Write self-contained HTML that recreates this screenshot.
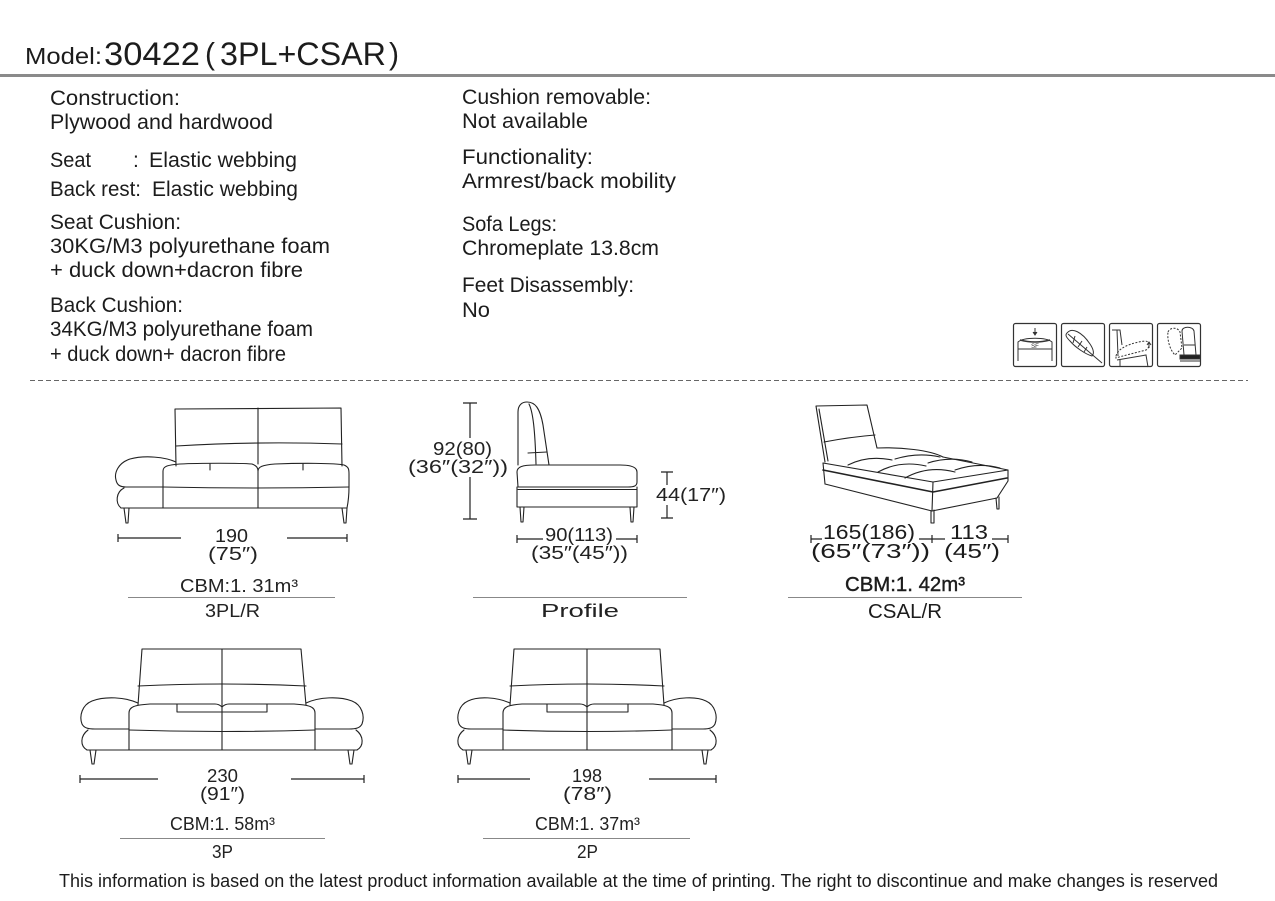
<!DOCTYPE html>
<html>
<head>
<meta charset="utf-8">
<style>
  html,body{margin:0;padding:0;background:#fff;}
  svg{display:block;}
  .t{font-family:"Liberation Sans","DejaVu Sans",sans-serif;fill:#1c1c1c;}
  .b{font-size:21px;}
  .l{font-size:18px;fill:#222;}
  .d{fill:none;stroke:#222;stroke-width:1.1;stroke-linejoin:round;stroke-linecap:round;}
  .dim{fill:none;stroke:#222;stroke-width:1.2;}
</style>
</head>
<body>
<svg width="1275" height="901" viewBox="0 0 1275 901" xmlns="http://www.w3.org/2000/svg">
<rect x="0" y="0" width="1275" height="901" fill="#fff"/>

<!-- Header -->
<text class="t" x="25" y="64" font-size="23" textLength="77" lengthAdjust="spacingAndGlyphs">Model:</text>
<text class="t" x="104" y="65" font-size="32" textLength="96" lengthAdjust="spacingAndGlyphs">30422</text>
<text class="t" x="205" y="64" font-size="31" textLength="10" lengthAdjust="spacingAndGlyphs">(</text>
<text class="t" x="220" y="65" font-size="32" textLength="166" lengthAdjust="spacingAndGlyphs">3PL+CSAR</text>
<text class="t" x="389" y="64" font-size="31" textLength="10" lengthAdjust="spacingAndGlyphs">)</text>
<rect x="0" y="74" width="1275" height="3" fill="#8a8a8a"/>

<!-- Left column -->
<text class="t b" x="50" y="105" textLength="130" lengthAdjust="spacingAndGlyphs">Construction:</text>
<text class="t b" x="50" y="129" textLength="223" lengthAdjust="spacingAndGlyphs">Plywood and hardwood</text>
<text class="t b" x="50" y="167" textLength="41" lengthAdjust="spacingAndGlyphs">Seat</text>
<text class="t b" x="133" y="167">:</text>
<text class="t b" x="149" y="167" textLength="148" lengthAdjust="spacingAndGlyphs">Elastic webbing</text>
<text class="t b" x="50" y="196" textLength="91" lengthAdjust="spacingAndGlyphs">Back rest:</text>
<text class="t b" x="152" y="196" textLength="146" lengthAdjust="spacingAndGlyphs">Elastic webbing</text>
<text class="t b" x="50" y="229" textLength="131" lengthAdjust="spacingAndGlyphs">Seat Cushion:</text>
<text class="t b" x="50" y="253" textLength="280" lengthAdjust="spacingAndGlyphs">30KG/M3  polyurethane foam</text>
<text class="t b" x="50" y="277" textLength="253" lengthAdjust="spacingAndGlyphs">+ duck down+dacron fibre</text>
<text class="t b" x="50" y="312" textLength="133" lengthAdjust="spacingAndGlyphs">Back Cushion:</text>
<text class="t b" x="50" y="336" textLength="263" lengthAdjust="spacingAndGlyphs">34KG/M3  polyurethane foam</text>
<text class="t b" x="50" y="361" textLength="236" lengthAdjust="spacingAndGlyphs">+ duck down+ dacron fibre</text>

<!-- Right column -->
<text class="t b" x="462" y="104" textLength="189" lengthAdjust="spacingAndGlyphs">Cushion removable:</text>
<text class="t b" x="462" y="128" textLength="126" lengthAdjust="spacingAndGlyphs">Not available</text>
<text class="t b" x="462" y="164" textLength="131" lengthAdjust="spacingAndGlyphs">Functionality:</text>
<text class="t b" x="462" y="188" textLength="214" lengthAdjust="spacingAndGlyphs">Armrest/back mobility</text>
<text class="t b" x="462" y="231" textLength="95" lengthAdjust="spacingAndGlyphs">Sofa Legs:</text>
<text class="t b" x="462" y="255" textLength="197" lengthAdjust="spacingAndGlyphs">Chromeplate 13.8cm</text>
<text class="t b" x="462" y="292" textLength="172" lengthAdjust="spacingAndGlyphs">Feet Disassembly:</text>
<text class="t b" x="462" y="317" textLength="28" lengthAdjust="spacingAndGlyphs">No</text>

<!-- Icons -->
<g fill="none" stroke="#333" stroke-width="1.2">
  <rect x="1013.5" y="323.5" width="43" height="43" rx="2"/>
  <rect x="1061.5" y="323.5" width="43" height="43" rx="2"/>
  <rect x="1109.5" y="323.5" width="43" height="43" rx="2"/>
  <rect x="1157.5" y="323.5" width="43" height="43" rx="2"/>
</g>
<g fill="none" stroke="#333" stroke-width="1">
  <path d="M1035,328 L1035,334"/><path d="M1033,332 L1035,335 L1037,332" fill="#333"/>
  <path d="M1018,361 L1018,342 C1024,337 1046,337 1052,342 L1052,361"/>
  <path d="M1020,340 Q1035,344 1050,340" stroke-width="1.6"/>
  <path d="M1018,349 L1052,349"/>
  <path d="M1067,333 C1072,327 1082,332 1090,344 C1094,350 1094,354 1092,356 C1085,354 1075,347 1070,341 C1066,337 1065,335 1067,333 Z"/>
  <path d="M1068,334 L1102,363"/>
  <path d="M1075,336 L1073,343 M1082,341 L1078,347 M1087,347 L1084,352"/>
  <path d="M1112,330 L1120,330 L1122,345"/>
  <path d="M1117,330 L1118,356"/>
  <path d="M1116,356 C1118,348 1130,343 1145,341 C1150,341 1150,348 1146,350 C1135,353 1122,356 1116,358 Z" stroke-dasharray="2,1.5"/>
  <path d="M1117,360 L1146,355 L1148,367 M1120,360 L1120,367"/>
  <path d="M1149,348 L1149,343 M1147,345 L1149,342 L1151,345"/>
  <path d="M1168,332 C1170,327 1178,327 1180,332 L1182,348 L1175,355 C1170,350 1167,340 1168,332 Z" stroke-dasharray="2,1.5"/>
  <path d="M1182,331 C1182,326 1193,326 1194,331 L1196,355 L1184,355 Z"/>
  <path d="M1184,345 L1195,345"/>
  <rect x="1180" y="355" width="20" height="4" fill="#222"/>
  <path d="M1180,361 L1200,361"/>
</g>
<text x="1035" y="348" font-family="Liberation Sans, sans-serif" font-size="6" text-anchor="middle" fill="#333">SF</text>

<!-- Dashed separator -->
<path d="M30,380.5 L1248,380.5" stroke="#666" stroke-width="1" stroke-dasharray="5,3"/>

<!-- ===== 3PL/R ===== -->
<g class="d">
  <path d="M176,466 L175,409 L341,408 L342,466"/>
  <path d="M176,446 Q258,441 342,444"/>
  <path d="M258,408 L258,464"/>
  <path d="M176,462 C165,457 145,455 130,459 C118,463 114,473 116,480 C117,485 120,487 126,487 L163,487"/>
  <path d="M124,488 C116,492 115,503 121,508"/>
  <path d="M163,508 L163,471 C163,466 168,465 180,464 C200,463 240,463 252,464 C257,466 258,468 258,471 L258,508"/>
  <path d="M258,471 C258,467 262,465 275,464 C300,463 335,463 344,465 C349,467 349,470 349,474 L349,487 C349,495 348,503 347,508"/>
  <path d="M163,487 Q255,489 349,487"/>
  <path d="M121,508 L347,508"/>
  <path d="M210,464 L210,470 M303,464 L303,470"/>
  <path d="M124,508 L126,523 L128,523 L129,508"/>
  <path d="M342,508 L344,523 L346,523 L347,508"/>
</g>
<g class="dim">
  <path d="M118,538 L181,538 M287,538 L347,538 M118,534 L118,542 M347,534 L347,542"/>
</g>
<text class="t l" x="215" y="542" textLength="33" lengthAdjust="spacingAndGlyphs">190</text>
<text class="t l" x="208" y="560" textLength="50" lengthAdjust="spacingAndGlyphs">(75″)</text>
<text class="t l" x="180" y="592" textLength="118" lengthAdjust="spacingAndGlyphs">CBM:1. 31m³</text>
<path d="M128,597.5 L335,597.5" stroke="#888" stroke-width="1"/>
<text class="t l" x="205" y="617" textLength="55" lengthAdjust="spacingAndGlyphs">3PL/R</text>

<!-- ===== Profile ===== -->
<g class="dim">
  <path d="M470,403 L470,438 M470,477 L470,519 M463,403 L477,403 M463,519 L477,519"/>
  <path d="M667,472 L667,485 M667,505 L667,518 M661,472 L673,472 M661,518 L673,518"/>
  <path d="M517,539 L543,539 M616,539 L637,539 M517,535 L517,543 M637,535 L637,543"/>
</g>
<g class="d">
  <path d="M518,465 L518,412 C518,405 522,402 527,402 C535,402 540,408 543,425 L549,465"/>
  <path d="M529,404 C533,412 535,430 536,464"/>
  <path d="M528,453 L547,452"/>
  <path d="M518,487 L517,472 C517,467 522,465 535,465 L620,465 C633,465 637,468 637,472 L637,482 C637,486 634,487 628,487 Z"/>
  <path d="M518,489.5 L637,489.5"/>
  <path d="M517,487 L517,507 L637,507 L637,487"/>
  <path d="M520,507 L521,522 L523,522 L524,507"/>
  <path d="M630,507 L631,522 L633,522 L634,507"/>
</g>
<text class="t l" x="433" y="455" textLength="59" lengthAdjust="spacingAndGlyphs">92(80)</text>
<text class="t l" x="408" y="473" textLength="100" lengthAdjust="spacingAndGlyphs">(36″(32″))</text>
<text class="t l" x="656" y="501" textLength="70" lengthAdjust="spacingAndGlyphs">44(17″)</text>
<text class="t l" x="545" y="541" textLength="68" lengthAdjust="spacingAndGlyphs">90(113)</text>
<text class="t l" x="531" y="559" textLength="97" lengthAdjust="spacingAndGlyphs">(35″(45″))</text>
<path d="M473,597.5 L687,597.5" stroke="#888" stroke-width="1"/>
<text class="t l" x="541" y="617" textLength="78" lengthAdjust="spacingAndGlyphs">Profile</text>

<!-- ===== CSAL/R ===== -->
<g class="d">
  <path d="M825,462 L816,406 L867,405 L877,448"/>
  <path d="M819,409 L828,461"/>
  <path d="M824,442 Q850,437 875,435"/>
  <path d="M877,448 C900,447 930,450 943,457"/>
  <path d="M823,463 L933,482 L1008,470 L943,457"/>
  <path d="M823,463 L825,484"/>
  <path d="M823,470 L933,492 L1007,478" stroke-width="1.6"/>
  <path d="M825,484 L932,511 L997,498 L1008,481 L1008,470"/>
  <path d="M933,482 L932,511"/>
  <path d="M931,511 L931,523 L934,523 L934,510"/>
  <path d="M996,498 L997,509 L999,509 L999,497"/>
  <path d="M848,465 Q868,455 892,460"/>
  <path d="M878,472 Q900,460 926,466"/>
  <path d="M905,478 Q928,465 955,472"/>
  <path d="M895,459 Q918,452 940,457"/>
  <path d="M928,463 Q950,456 972,462"/>
  <path d="M955,470 Q978,462 1000,468"/>
</g>
<g class="dim">
  <path d="M811,539 L822,539 M919,539 L945,539 M992,539 L1008,539 M811,535 L811,543 M932,535 L932,543 M1008,535 L1008,543"/>
</g>
<text class="t" x="823" y="539" font-size="20" textLength="92" lengthAdjust="spacingAndGlyphs">165(186)</text>
<text class="t" x="950" y="539" font-size="20" textLength="38" lengthAdjust="spacingAndGlyphs">113</text>
<text class="t" x="811" y="558" font-size="20" textLength="119" lengthAdjust="spacingAndGlyphs">(65″(73″))</text>
<text class="t" x="944" y="558" font-size="20" textLength="56" lengthAdjust="spacingAndGlyphs">(45″)</text>
<text class="t" x="845" y="591" font-size="20" textLength="120" lengthAdjust="spacingAndGlyphs" stroke="#1c1c1c" stroke-width="0.4">CBM:1. 42m³</text>
<path d="M788,597.5 L1022,597.5" stroke="#888" stroke-width="1"/>
<text class="t" x="868" y="618" font-size="20" textLength="74" lengthAdjust="spacingAndGlyphs">CSAL/R</text>

<!-- ===== 3P ===== -->
<g class="d">
  <path d="M138,705 L142,649 L301,649 L306,705"/>
  <path d="M138,686 Q222,682 306,686"/>
  <path d="M222,649 L222,750"/>
  <path d="M138,703 C125,697 105,696 92,701 C82,705 79,716 82,724 C84,728 88,729 95,729 L129,729"/>
  <path d="M88,730 C80,736 80,746 87,750"/>
  <path d="M129,750 L129,713 C129,707 134,705 150,704 L215,704 C219,704 221,706 222,707 C223,706 225,704 229,704 L294,704 C310,705 315,707 315,713 L315,750"/>
  <path d="M129,730 Q222,733 315,730"/>
  <path d="M177,704 L177,712 M267,704 L267,712 M177,712 L267,712"/>
  <path d="M306,703 C319,697 339,696 352,701 C362,705 365,716 362,724 C360,728 356,729 349,729 L315,729"/>
  <path d="M356,730 C364,736 364,746 357,750"/>
  <path d="M87,750 L357,750"/>
  <path d="M90,750 L92,764 L94,764 L96,750"/>
  <path d="M348,750 L350,764 L352,764 L354,750"/>
</g>
<g class="dim">
  <path d="M80,779 L158,779 M291,779 L364,779 M80,775 L80,783 M364,775 L364,783"/>
</g>
<text class="t l" x="207" y="782" textLength="31" lengthAdjust="spacingAndGlyphs">230</text>
<text class="t l" x="200" y="800" textLength="45" lengthAdjust="spacingAndGlyphs">(91″)</text>
<text class="t l" x="170" y="830" textLength="105" lengthAdjust="spacingAndGlyphs">CBM:1. 58m³</text>
<path d="M120,838.5 L325,838.5" stroke="#888" stroke-width="1"/>
<text class="t l" x="212" y="858" textLength="21" lengthAdjust="spacingAndGlyphs">3P</text>

<!-- ===== 2P ===== -->
<g class="d">
  <path d="M510,705 L514,649 L660,649 L664,705"/>
  <path d="M510,686 Q587,682 664,686"/>
  <path d="M587,649 L587,750"/>
  <path d="M510,703 C497,697 478,696 468,701 C459,705 456,716 459,724 C461,728 465,729 471,729 L503,729"/>
  <path d="M464,730 C456,736 456,746 463,750"/>
  <path d="M503,750 L503,713 C503,707 508,705 522,704 L580,704 C584,704 586,706 587,707 C588,706 590,704 594,704 L653,704 C667,705 672,707 672,713 L672,750"/>
  <path d="M503,730 Q587,733 672,730"/>
  <path d="M547,704 L547,712 M628,704 L628,712 M547,712 L628,712"/>
  <path d="M664,703 C677,697 696,696 706,701 C715,705 718,716 715,724 C713,728 709,729 703,729 L672,729"/>
  <path d="M710,730 C718,736 718,746 711,750"/>
  <path d="M463,750 L711,750"/>
  <path d="M466,750 L468,764 L470,764 L472,750"/>
  <path d="M702,750 L704,764 L706,764 L708,750"/>
</g>
<g class="dim">
  <path d="M458,779 L530,779 M649,779 L716,779 M458,775 L458,783 M716,775 L716,783"/>
</g>
<text class="t l" x="572" y="782" textLength="30" lengthAdjust="spacingAndGlyphs">198</text>
<text class="t l" x="563" y="800" textLength="49" lengthAdjust="spacingAndGlyphs">(78″)</text>
<text class="t l" x="535" y="830" textLength="105" lengthAdjust="spacingAndGlyphs">CBM:1. 37m³</text>
<path d="M483,838.5 L690,838.5" stroke="#888" stroke-width="1"/>
<text class="t l" x="577" y="858" textLength="21" lengthAdjust="spacingAndGlyphs">2P</text>

<!-- Footer -->
<text class="t" x="59" y="887" font-size="18" textLength="1159" lengthAdjust="spacingAndGlyphs">This information is based on the latest product information available at the time of printing. The right to discontinue and make changes is reserved</text>
</svg>
</body>
</html>
